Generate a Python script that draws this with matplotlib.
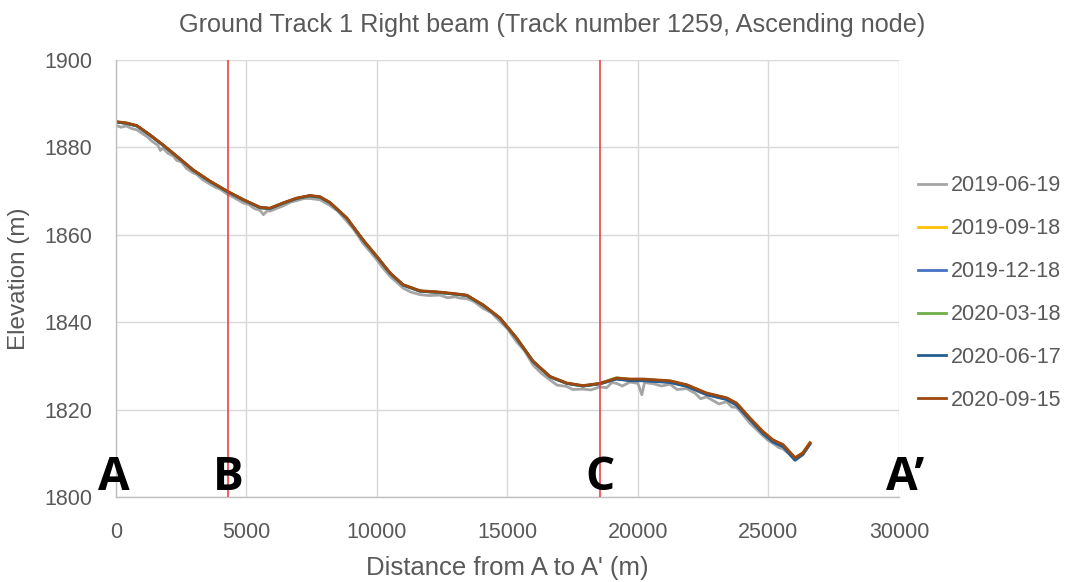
import matplotlib
matplotlib.use("Agg")
import matplotlib.pyplot as plt

# Distance along the track (m) for the smoothed beam profiles
dist_m = [0, 400, 800, 1300, 1800, 2330, 2950, 3600, 4290, 4870,
          5520, 5900, 6400, 6920, 7430, 7820, 8200, 8840, 9460, 9990,
          10500, 11000, 11650, 12410, 13180, 13440, 14060, 14710, 15350, 15980,
          16630, 17270, 17890, 18540, 19180, 19700, 20200, 21230, 21870, 22630,
          23400, 23780, 24290, 24790, 25170, 25560, 26020, 26320, 26590]

elev_2019_09_18 = [1885.8, 1885.5, 1884.9, 1882.8, 1880.5, 1877.9, 1874.8, 1872.2, 1869.8, 1868.0,
                   1866.2, 1866.0, 1867.2, 1868.3, 1868.9, 1868.6, 1867.3, 1863.8, 1858.8, 1855.0,
                   1851.2, 1848.5, 1847.1, 1846.8, 1846.3, 1846.1, 1843.9, 1840.9, 1836.3, 1831.0,
                   1827.5, 1826.0, 1825.4, 1825.9, 1827.1, 1826.9, 1826.9, 1826.5, 1825.6, 1823.7,
                   1822.6, 1821.4, 1818.0, 1814.9, 1813.0, 1811.9, 1808.9, 1810.2, 1812.5]
elev_2019_12_18 = [1885.8, 1885.5, 1884.9, 1882.8, 1880.5, 1877.9, 1874.8, 1872.2, 1869.8, 1868.0,
                   1866.2, 1866.0, 1867.2, 1868.3, 1868.9, 1868.6, 1867.3, 1863.8, 1858.8, 1855.0,
                   1851.2, 1848.5, 1847.1, 1846.8, 1846.3, 1846.1, 1843.9, 1840.9, 1836.3, 1831.0,
                   1827.5, 1826.0, 1825.4, 1825.9, 1827.0, 1826.7, 1826.7, 1826.3, 1825.4, 1823.5,
                   1822.4, 1821.1, 1817.8, 1814.6, 1812.7, 1811.6, 1808.5, 1809.8, 1812.2]
elev_2020_03_18 = [1885.8, 1885.5, 1884.9, 1882.8, 1880.5, 1877.9, 1874.8, 1872.2, 1869.8, 1868.0,
                   1866.2, 1866.0, 1867.2, 1868.3, 1868.9, 1868.6, 1867.3, 1863.8, 1858.8, 1855.0,
                   1851.2, 1848.5, 1847.1, 1846.8, 1846.3, 1846.1, 1843.9, 1840.9, 1836.3, 1831.0,
                   1827.5, 1826.0, 1825.4, 1826.0, 1827.3, 1826.9, 1826.9, 1826.5, 1825.6, 1823.7,
                   1822.6, 1821.3, 1817.9, 1814.8, 1812.9, 1811.8, 1808.8, 1810.0, 1812.3]
elev_2020_06_17 = [1885.8, 1885.5, 1884.9, 1882.8, 1880.5, 1877.9, 1874.8, 1872.2, 1869.8, 1868.0,
                   1866.2, 1866.0, 1867.2, 1868.3, 1868.9, 1868.6, 1867.3, 1863.8, 1858.8, 1855.0,
                   1851.2, 1848.5, 1847.1, 1846.8, 1846.3, 1846.1, 1843.9, 1840.9, 1836.3, 1831.0,
                   1827.5, 1826.0, 1825.4, 1825.9, 1827.0, 1826.6, 1826.6, 1826.2, 1825.3, 1823.4,
                   1822.3, 1821.0, 1817.7, 1814.5, 1812.6, 1811.5, 1808.4, 1809.8, 1812.1]
elev_2020_09_15 = [1885.9, 1885.6, 1885.0, 1882.9, 1880.6, 1878.0, 1874.9, 1872.3, 1869.9, 1868.1,
                   1866.3, 1866.1, 1867.3, 1868.4, 1869.0, 1868.7, 1867.4, 1863.9, 1858.9, 1855.1,
                   1851.3, 1848.6, 1847.2, 1846.9, 1846.4, 1846.2, 1844.0, 1841.0, 1836.4, 1831.1,
                   1827.6, 1826.1, 1825.5, 1826.0, 1827.2, 1827.0, 1827.0, 1826.6, 1825.7, 1823.8,
                   1822.7, 1821.5, 1818.1, 1815.0, 1813.1, 1812.0, 1809.0, 1810.1, 1812.4]

# First acquisition is noisier and sampled more densely
dist_2019_06_19 = [0, 200, 400, 600, 800, 1000, 1200, 1400, 1600, 1700,
                   1800, 2000, 2200, 2330, 2500, 2700, 2950, 3100, 3300, 3600,
                   3800, 4000, 4290, 4500, 4870, 5100, 5300, 5520, 5650, 5800,
                   5900, 6100, 6400, 6700, 6920, 7200, 7430, 7820, 8200, 8500,
                   8840, 9100, 9460, 9700, 9990, 10200, 10500, 10800, 11000, 11300,
                   11650, 12000, 12410, 12700, 13000, 13180, 13440, 13700, 14060, 14400,
                   14710, 15000, 15350, 15650, 15980, 16300, 16630, 16900, 17270, 17500,
                   17890, 18200, 18540, 18800, 19000, 19180, 19400, 19700, 20000, 20150,
                   20250, 20600, 20900, 21230, 21500, 21870, 22200, 22400, 22630, 22900,
                   23100, 23400, 23600, 23780, 24000, 24290, 24550, 24790, 25000, 25170,
                   25400, 25560, 25800, 26020, 26200, 26320, 26590]
elev_2019_06_19 = [1885.0, 1884.6, 1884.9, 1884.3, 1884.0, 1883.2, 1882.4, 1881.3, 1880.5, 1879.3,
                   1879.8, 1878.6, 1878.0, 1877.0, 1876.7, 1875.2, 1874.2, 1873.8, 1872.7, 1871.6,
                   1870.9, 1870.4, 1869.2, 1868.6, 1867.3, 1866.9, 1866.0, 1865.6, 1864.6, 1865.5,
                   1865.4, 1865.9, 1866.6, 1867.5, 1867.8, 1868.3, 1868.3, 1868.0, 1866.7, 1865.4,
                   1863.1, 1861.3, 1858.1, 1856.4, 1854.3, 1852.6, 1850.5, 1848.9, 1847.8, 1846.9,
                   1846.3, 1846.1, 1846.2, 1845.6, 1845.8, 1845.5, 1845.4, 1844.8, 1843.2, 1842.1,
                   1840.2, 1838.5, 1835.5, 1833.5, 1830.2, 1828.3, 1826.8, 1825.6, 1825.3, 1824.6,
                   1824.7, 1824.5, 1825.2, 1825.0, 1826.2, 1826.0, 1825.4, 1826.3, 1826.0, 1823.4,
                   1826.2, 1825.9, 1825.4, 1825.8, 1824.6, 1824.8, 1823.7, 1822.5, 1822.9, 1822.0,
                   1821.3, 1821.8, 1820.6, 1820.5, 1819.0, 1816.9, 1815.4, 1814.0, 1812.9, 1812.3,
                   1811.3, 1811.0, 1809.8, 1808.6, 1809.2, 1809.7, 1812.1]

dates = ["2019-06-19", "2019-09-18", "2019-12-18", "2020-03-18", "2020-06-17", "2020-09-15"]
colors = ["#a5a5a5", "#ffc000", "#4472c4", "#70ad47", "#255e91", "#9e480e"]

# Section markers along the track
marker_names = ["A", "B", "C", "A\u2019"]
marker_dist = [-100, 4300, 18550, 30250]
section_lines = [4300, 18550]

plt.rcParams['font.family'] = ['Liberation Sans', 'DejaVu Sans']
text_color = "#595959"

fig = plt.figure(figsize=(10.74, 5.82), dpi=100)
ax = fig.add_axes([0.108, 0.146, 0.729, 0.751])

series = [
    (dist_2019_06_19, elev_2019_06_19),
    (dist_m, elev_2019_09_18),
    (dist_m, elev_2019_12_18),
    (dist_m, elev_2020_03_18),
    (dist_m, elev_2020_06_17),
    (dist_m, elev_2020_09_15),
]
for (x, y), label, c in zip(series, dates, colors):
    ax.plot(x, y, color=c, lw=2.0, label=label, solid_joinstyle='round')

for xv in section_lines:
    ax.axvline(xv, color="#ee3333", lw=1.1, zorder=5)

for name, xv in zip(marker_names, marker_dist):
    ax.text(xv, 1801.6, name, ha='center', va='baseline', fontsize=33,
            fontweight='bold', family=['Open Sans', 'DejaVu Sans'],
            color='black', clip_on=False, zorder=6)

ax.set_xlim(0, 30000)
ax.set_ylim(1800, 1900)
ax.set_xticks(range(0, 30001, 5000))
ax.set_yticks(range(1800, 1901, 20))
ax.grid(True, color="#d9d9d9", lw=1.0)
ax.set_axisbelow(True)
for side in ['top', 'right']:
    ax.spines[side].set_visible(False)
for side in ['left', 'bottom']:
    ax.spines[side].set_color("#bfbfbf")
    ax.spines[side].set_linewidth(1.0)
ax.tick_params(length=0, labelsize=15.5, labelcolor=text_color)
ax.tick_params(axis='y', pad=17)
ax.tick_params(axis='x', pad=18)

ax.set_xlabel("Distance from A to A' (m)", fontsize=18.5, color=text_color, labelpad=9)
ax.set_ylabel("Elevation (m)", fontsize=17.5, color=text_color, labelpad=10)
fig.suptitle("Ground Track 1 Right beam (Track number 1259, Ascending node)",
             x=0.514, y=0.978, fontsize=18.2, color=text_color)

fig.legend(loc='upper left', bbox_to_anchor=(0.855, 0.699), frameon=False,
           fontsize=15.5, labelcolor=text_color, handlelength=1.3,
           handletextpad=0.2, labelspacing=1.02, borderpad=0, borderaxespad=0)

fig.savefig("out.png", dpi=100)
